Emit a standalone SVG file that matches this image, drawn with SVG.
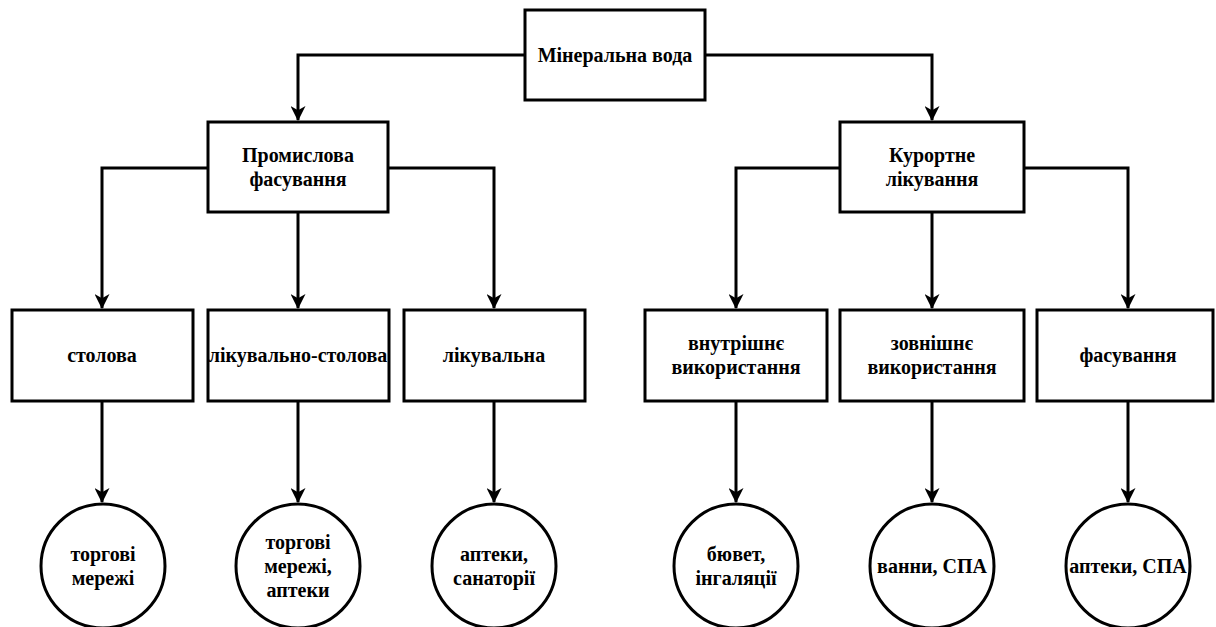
<svg xmlns="http://www.w3.org/2000/svg" width="1216" height="627" viewBox="0 0 1216 627">
<style>
.box{fill:#fff;stroke:#000;stroke-width:3}
.t{font-family:"Liberation Serif","Times New Roman",serif;font-weight:bold;font-size:20px;fill:#000;text-anchor:middle}
.c{fill:none;stroke:#000;stroke-width:3}
</style>
<defs>
<marker id="ah" markerUnits="userSpaceOnUse" viewBox="0 0 14 14" markerWidth="15" markerHeight="15" refX="13" refY="7" orient="auto">
<path d="M0,0 L14,7 L0,14 L4,7 Z" fill="#000"/>
</marker>
</defs>
<rect width="1216" height="627" fill="#fff"/>
<g id="connectors">
<path class="c" d="M525,55 H298 V120" marker-end="url(#ah)"/>
<path class="c" d="M705,55 H932 V120" marker-end="url(#ah)"/>
<path class="c" d="M208,168 H102 V308" marker-end="url(#ah)"/>
<path class="c" d="M298,212 V308" marker-end="url(#ah)"/>
<path class="c" d="M388,168 H494 V308" marker-end="url(#ah)"/>
<path class="c" d="M840,168 H736 V308" marker-end="url(#ah)"/>
<path class="c" d="M932,212 V308" marker-end="url(#ah)"/>
<path class="c" d="M1024,168 H1128 V308" marker-end="url(#ah)"/>
<path class="c" d="M102,401 V502" marker-end="url(#ah)"/>
<path class="c" d="M298,401 V502" marker-end="url(#ah)"/>
<path class="c" d="M494,401 V502" marker-end="url(#ah)"/>
<path class="c" d="M736,401 V502" marker-end="url(#ah)"/>
<path class="c" d="M932,401 V502" marker-end="url(#ah)"/>
<path class="c" d="M1128,401 V502" marker-end="url(#ah)"/>
</g>
<g id="n-root"><rect class="box" x="525" y="10" width="180" height="90"/><text class="t" x="615" y="62">Мінеральна вода</text></g>
<g id="n-prom"><rect class="box" x="208" y="122" width="180" height="90"/><text class="t" x="298" y="162">Промислова</text><text class="t" x="298" y="186">фасування</text></g>
<g id="n-kur"><rect class="box" x="840" y="122" width="184" height="90"/><text class="t" x="932" y="162">Курортне</text><text class="t" x="932" y="186">лікування</text></g>
<g id="n-stol"><rect class="box" x="12" y="310" width="181" height="91"/><text class="t" x="102" y="362">столова</text></g>
<g id="n-likstol"><rect class="box" x="208" y="310" width="181" height="91"/><text class="t" x="298" y="362">лікувально-столова</text></g>
<g id="n-lik"><rect class="box" x="404" y="310" width="181" height="91"/><text class="t" x="494" y="362">лікувальна</text></g>
<g id="n-vn"><rect class="box" x="645" y="310" width="182" height="91"/><text class="t" x="736" y="350">внутрішнє</text><text class="t" x="736" y="374">використання</text></g>
<g id="n-zov"><rect class="box" x="840" y="310" width="184" height="91"/><text class="t" x="932" y="350">зовнішнє</text><text class="t" x="932" y="374">використання</text></g>
<g id="n-fas"><rect class="box" x="1037" y="310" width="176" height="91"/><text class="t" x="1128" y="362">фасування</text></g>
<g id="c1"><ellipse class="box" cx="103" cy="566" rx="62" ry="62"/><text class="t" x="103" y="561">торгові</text><text class="t" x="103" y="585">мережі</text></g>
<g id="c2"><ellipse class="box" cx="298" cy="566" rx="62" ry="62"/><text class="t" x="298" y="549">торгові</text><text class="t" x="298" y="573">мережі,</text><text class="t" x="298" y="597">аптеки</text></g>
<g id="c3"><ellipse class="box" cx="494" cy="566" rx="62" ry="62"/><text class="t" x="494" y="561">аптеки,</text><text class="t" x="494" y="585">санаторії</text></g>
<g id="c4"><ellipse class="box" cx="736" cy="566" rx="62" ry="62"/><text class="t" x="736" y="561">бювет,</text><text class="t" x="736" y="585">інгаляції</text></g>
<g id="c5"><ellipse class="box" cx="932" cy="566" rx="62" ry="62"/><text class="t" x="932" y="573">ванни, СПА</text></g>
<g id="c6"><ellipse class="box" cx="1128" cy="566" rx="62" ry="62"/><text class="t" x="1128" y="573">аптеки, СПА</text></g>
</svg>
